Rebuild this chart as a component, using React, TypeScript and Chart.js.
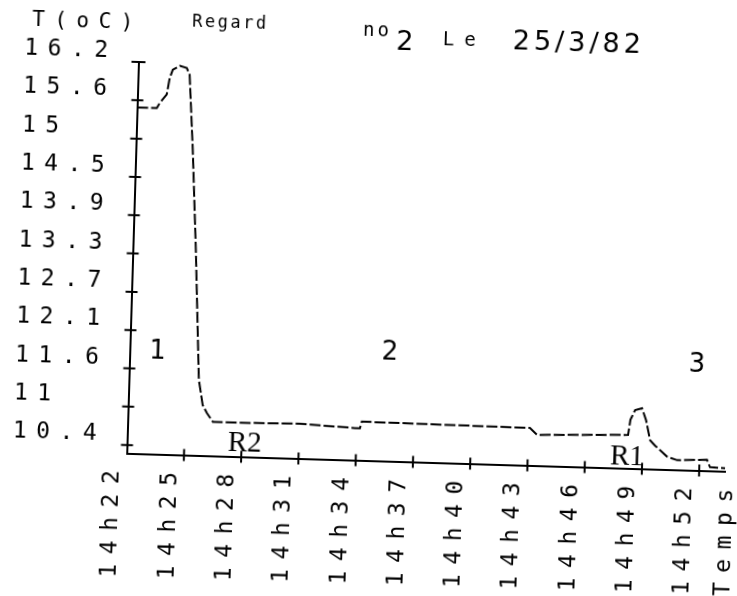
import { useEffect, useRef } from 'react';
import { Chart, registerables } from 'chart.js';

Chart.register(...registerables);

// ---- data (minutes after 14h22, temperature in °C) ----
const minutes = [0, 1.03, 1.18, 1.53, 1.66, 1.81, 2.17, 2.54, 2.7, 2.98, 3.3, 3.66, 3.9, 4.13, 4.46, 6.39, 9.01, 11.9, 12.17, 12.26, 16.88, 21.07, 21.45, 26.22, 26.32, 26.55, 26.91, 27.14, 27.38, 27.65, 28.02, 28.29, 28.83, 30.39, 30.56, 31.35];
const temps = [15.51, 15.51, 15.59, 15.72, 15.97, 16.1, 16.16, 16.13, 16.03, 14.9, 13.38, 11.42, 11.04, 10.92, 10.79, 10.79, 10.8, 10.76, 10.76, 10.86, 10.85, 10.84, 10.74, 10.78, 11.01, 11.16, 11.19, 11.01, 10.71, 10.63, 10.54, 10.47, 10.42, 10.44, 10.33, 10.32];

const xTickValues = [0, 3, 6, 9, 12, 15, 18, 21, 24, 27, 30];
const xTickLabels = ['14h22', '14h25', '14h28', '14h31', '14h34', '14h37', '14h40', '14h43', '14h46', '14h49', '14h52'];
const yTickValues = [10.4, 10.98, 11.56, 12.14, 12.72, 13.3, 13.88, 14.46, 15.04, 15.62, 16.2];
const yTickLabels = ['10.4', '11', '11.6', '12.1', '12.7', '13.3', '13.9', '14.5', '15', '15.6', '16.2'];

const phaseLabels = ['1', '2', '3'];
const phaseMinutes = [1.46, 13.62, 29.72];
const phaseTemps = [11.82, 11.92, 11.87];
const refLabels = ['R2', 'R1'];
const refMinutes = [6.16, 26.2];
const refTemps = [10.48, 10.44];

const xAxisTitle = 'Temps';
const yAxisTitle = 'T(oC)';
const titleWord = 'Regard';
const titleNo = 'no';
const titleSub = '2';
const titleLe = 'Le';
const titleDate = '25/3/82';

const X_MIN = 0;
const X_MAX = 31.35;
const Y_MIN = 10.274;
const Y_MAX = 16.2;

const MONO = '"DejaVu Sans Mono", monospace';
const SANS = '"DejaVu Sans", sans-serif';
const SERIF = '"Liberation Serif", serif';
const SPACING = '9.5px';

const W = 760;
const H = 620;

const spacingPlugin = {
  id: 'spacing',
  beforeLayout(chart: any) {
    chart.ctx.letterSpacing = SPACING;
  },
  beforeDraw(chart: any) {
    chart.ctx.letterSpacing = SPACING;
  },
};

const marksPlugin = {
  id: 'marks',
  afterDraw(chart: any) {
    const { ctx, chartArea, scales } = chart;
    const xs = scales.x;
    const ys = scales.y;
    ctx.save();
    ctx.letterSpacing = '0px';
    ctx.strokeStyle = '#000';
    ctx.lineWidth = 2;
    ctx.setLineDash([]);
    ctx.beginPath();
    yTickValues.forEach((v, i) => {
      const py = ys.getPixelForValue(v);
      const half = i === yTickValues.length - 1 ? 7 : 6;
      ctx.moveTo(chartArea.left - half, py);
      ctx.lineTo(chartArea.left + half, py);
    });
    xTickValues.forEach((t, i) => {
      if (i === 0) return;
      const px = xs.getPixelForValue(t);
      ctx.moveTo(px, chartArea.bottom - 6);
      ctx.lineTo(px, chartArea.bottom + 6);
    });
    ctx.stroke();

    ctx.fillStyle = '#000';
    ctx.textBaseline = 'middle';

    // phase numbers
    ctx.textAlign = 'center';
    ctx.font = `26px ${SANS}`;
    phaseLabels.forEach((s, i) => {
      ctx.fillText(s, xs.getPixelForValue(phaseMinutes[i]), ys.getPixelForValue(phaseTemps[i]));
    });
    ctx.font = `29px ${SERIF}`;
    refLabels.forEach((s, i) => {
      ctx.fillText(s, xs.getPixelForValue(refMinutes[i]), ys.getPixelForValue(refTemps[i]));
    });

    // axis titles
    ctx.textAlign = 'left';
    ctx.font = `21px ${MONO}`;
    ctx.letterSpacing = '9.5px';
    ctx.fillText(yAxisTitle, 24, 31);

    ctx.save();
    ctx.font = `23px ${MONO}`;
    ctx.translate(xs.right + 2, chartArea.bottom + 8);
    ctx.rotate(-Math.PI / 2);
    ctx.textAlign = 'right';
    ctx.fillText(xAxisTitle, 0, 0);
    ctx.restore();

    // title
    ctx.textAlign = 'left';
    ctx.font = `17px ${MONO}`;
    ctx.letterSpacing = '2.5px';
    ctx.fillText(titleWord, 184, 28);
    ctx.font = `19px ${MONO}`;
    ctx.letterSpacing = '3px';
    ctx.fillText(titleNo, 355, 31);
    ctx.letterSpacing = '0px';
    ctx.textAlign = 'center';
    ctx.font = `27px ${SANS}`;
    ctx.fillText(titleSub, 397, 42);
    ctx.textAlign = 'left';
    ctx.font = `19px ${MONO}`;
    ctx.letterSpacing = '10px';
    ctx.fillText(titleLe, 435, 38);
    ctx.font = `27px ${SANS}`;
    ctx.letterSpacing = '4px';
    ctx.fillText(titleDate, 505, 38);
    ctx.restore();
  },
};

export default function App() {
  const ref = useRef<HTMLCanvasElement>(null);
  useEffect(() => {
    document.body.style.margin = '0';
    const canvas = ref.current;
    if (!canvas) return;
    const chart = new Chart(canvas, {
      type: 'line',
      data: {
        datasets: [
          {
            data: minutes.map((m, i) => ({ x: m, y: temps[i] })),
            borderColor: '#000',
            borderWidth: 2,
            borderDash: [11, 3],
            pointRadius: 0,
            tension: 0,
            fill: false,
          },
        ],
      },
      options: {
        animation: false,
        responsive: false,
        events: [],
        layout: { padding: { left: 17, right: 30, top: 69, bottom: 0 } },
        plugins: {
          legend: { display: false },
          tooltip: { enabled: false },
          title: { display: false },
        },
        scales: {
          x: {
            type: 'linear',
            min: X_MIN,
            max: X_MAX,
            afterBuildTicks: (s: any) => {
              s.ticks = xTickValues.map((v) => ({ value: v }));
            },
            afterFit: (s: any) => {
              s.height = H - 460.5;
            },
            grid: { display: false, drawTicks: false },
            border: { display: true, color: '#000', width: 2, dash: [14, 4] },
            ticks: {
              autoSkip: false,
              minRotation: 90,
              maxRotation: 90,
              padding: 8,
              labelOffset: -13,
              color: '#000',
              font: { family: MONO, size: 23 },
              callback: (_v: any, i: number) => xTickLabels[i],
            },
          },
          y: {
            type: 'linear',
            min: Y_MIN,
            max: Y_MAX,
            afterBuildTicks: (s: any) => {
              s.ticks = yTickValues.map((v) => ({ value: v }));
            },
            afterFit: (s: any) => {
              s.width = 114.5;
            },
            grid: { display: false, drawTicks: false },
            border: { display: true, color: '#000', width: 2 },
            ticks: {
              autoSkip: false,
              crossAlign: 'far',
              labelOffset: -10,
              padding: 0,
              color: '#000',
              font: { family: MONO, size: 23 },
              callback: (_v: any, i: number) => yTickLabels[i],
            },
          },
        },
      },
      plugins: [spacingPlugin, marksPlugin],
    } as any);
    return () => chart.destroy();
  }, []);

  return (
    <div style={{ position: 'relative', width: 737, height: 596, overflow: 'hidden', background: '#fff' }}>
      <canvas
        ref={ref}
        width={W}
        height={H}
        style={{
          position: 'absolute',
          left: 0,
          top: 0,
          width: W,
          height: H,
          transform: 'rotate(1.72deg)',
          transformOrigin: '368.5px 298px',
        }}
      />
    </div>
  );
}
